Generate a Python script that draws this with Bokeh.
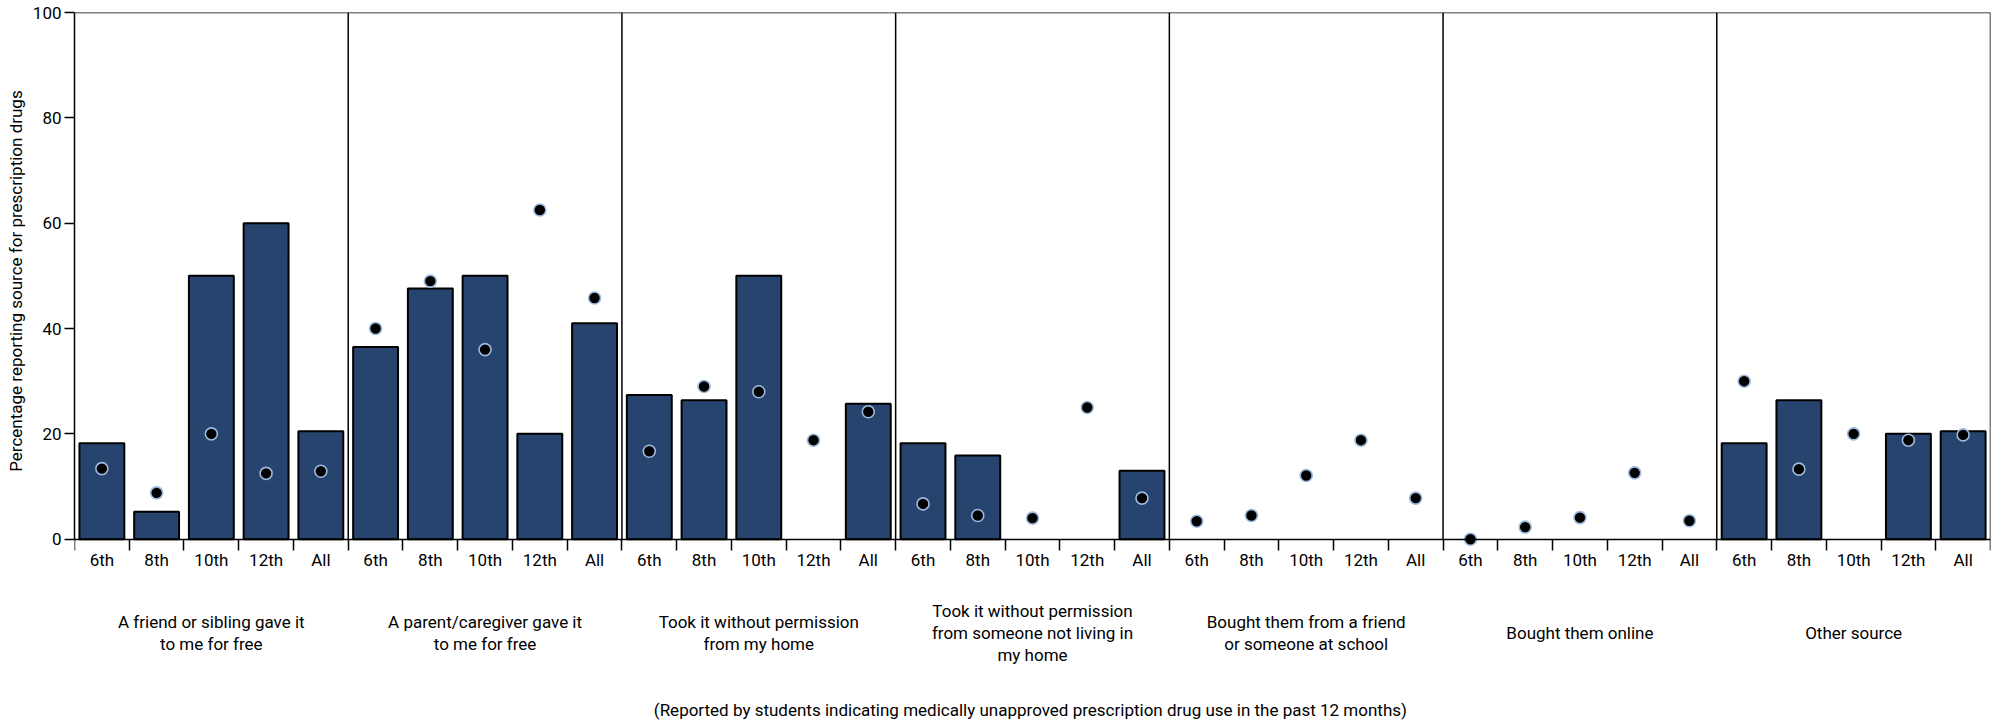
from bokeh.plotting import figure
from bokeh.models import Range1d, FixedTicker, LinearAxis, ColumnDataSource
from bokeh.core.properties import value
from bokeh.embed import file_html
from bokeh.resources import INLINE

FONT = "Roboto"

grades = ["6th", "8th", "10th", "12th", "All"]
groups = [
    "A friend or sibling gave it\nto me for free",
    "A parent/caregiver gave it\nto me for free",
    "Took it without permission\nfrom my home",
    "Took it without permission\nfrom someone not living in\nmy home",
    "Bought them from a friend\nor someone at school",
    "Bought them online",
    "Other source",
]

# bar series (None = no bar)
bar_friend = [18.2, 5.2, 50.0, 60.0, 20.5]
bar_parent = [36.5, 47.6, 50.0, 20.0, 41.0]
bar_home = [27.4, 26.4, 50.0, None, 25.7]
bar_other_home = [18.2, 15.9, None, None, 13.0]
bar_bought_friend = [None, None, None, None, None]
bar_online = [None, None, None, None, None]
bar_other = [18.2, 26.4, None, 20.0, 20.5]

# dot series
dot_friend = [13.4, 8.8, 20.0, 12.5, 12.9]
dot_parent = [40.0, 49.0, 36.0, 62.5, 45.8]
dot_home = [16.7, 29.0, 28.0, 18.8, 24.2]
dot_other_home = [6.7, 4.5, 4.0, 25.0, 7.8]
dot_bought_friend = [3.4, 4.5, 12.1, 18.8, 7.8]
dot_online = [0.0, 2.3, 4.1, 12.6, 3.5]
dot_other = [30.0, 13.3, 20.0, 18.8, 19.8]

y_ticks = [0, 20, 40, 60, 80, 100]
y_label = "Percentage reporting source for prescription drugs"
footer = "(Reported by students indicating medically unapproved prescription drug use  in the past 12 months)"

bars = [bar_friend, bar_parent, bar_home, bar_other_home, bar_bought_friend, bar_online, bar_other]
dots = [dot_friend, dot_parent, dot_home, dot_other_home, dot_bought_friend, dot_online, dot_other]

n_g = len(grades)
n_grp = len(groups)
n_slots = n_grp * n_g
bx, btop, dx, dy = [], [], [], []
for gi in range(n_grp):
    for ki in range(n_g):
        x = gi * n_g + ki + 0.5
        if bars[gi][ki] is not None:
            bx.append(x)
            btop.append(bars[gi][ki])
        dx.append(x)
        dy.append(dots[gi][ki])

Y_MIN = -34.8  # room below the axis for the group names and the note
p = figure(width=1995, height=722, output_backend="svg", toolbar_location=None,
           x_range=Range1d(0, n_slots), y_range=Range1d(Y_MIN, 100),
           min_border_left=74, min_border_right=5, min_border_top=12, min_border_bottom=0)
p.xgrid.visible = False
p.ygrid.visible = False
p.outline_line_color = None
p.background_fill_color = "white"
p.border_fill_color = "white"

p.vbar(x="x", top="top", width=0.82, bottom=0, source=ColumnDataSource(dict(x=bx, top=btop)),
       fill_color="#27446E", line_color="black", line_width=2)

seps = [gi * n_g for gi in range(1, n_grp)]
p.segment(x0=seps, y0=[0] * len(seps), x1=seps, y1=[100] * len(seps),
          line_color="black", line_width=1.5)

p.scatter(x="x", y="y", source=ColumnDataSource(dict(x=dx, y=dy)), size=12,
          fill_color="black", line_color="#9DB9DE", line_width=1.6)

# x axis at y = 0
centers = [gi * n_g + ki + 0.5 for gi in range(n_grp) for ki in range(n_g)]
bounds = list(range(0, n_slots + 1))
xa = p.xaxis[0]
xa.fixed_location = 0
xa.bounds = (0, n_slots)
xa.ticker = FixedTicker(ticks=centers, minor_ticks=bounds)
xa.major_label_overrides = {c: grades[i % n_g] for i, c in enumerate(centers)}
xa.major_tick_out = 0
xa.major_tick_in = 0
xa.minor_tick_out = 11
xa.minor_tick_in = 0
xa.minor_tick_line_color = "black"
xa.minor_tick_line_width = 1.5
xa.axis_line_color = "black"
xa.axis_line_width = 1.5
xa.major_label_standoff = 0
xa.major_label_text_font = FONT
xa.major_label_text_font_size = "17px"
xa.major_label_text_color = "black"

ya = p.yaxis[0]
ya.bounds = (0, 100)
ya.ticker = FixedTicker(ticks=y_ticks)
ya.major_tick_out = 10
ya.major_tick_in = 0
ya.major_tick_line_width = 1.5
ya.minor_tick_line_color = None
ya.axis_line_width = 1.5
ya.major_label_standoff = 3
ya.major_label_text_font = FONT
ya.major_label_text_font_size = "17px"
ya.major_label_text_color = "black"
# leading no-break spaces lift the title so it sits centred on the 0-100 part of the axis
ya.axis_label = "\u00a0" * 41 + y_label
ya.axis_label_text_font = FONT
ya.axis_label_text_font_size = "17px"
ya.axis_label_text_font_style = "normal"
ya.axis_label_text_color = "black"
ya.axis_label_standoff = 4

# frame lines at top and right
top_ax = LinearAxis(fixed_location=100, bounds=(0, n_slots), axis_line_width=1.5,
                    major_tick_line_color=None, minor_tick_line_color=None,
                    major_label_text_color=None)
p.add_layout(top_ax, "above")
right_ax = LinearAxis(fixed_location=n_slots, bounds=(0, 100), axis_line_width=1.5,
                      major_tick_line_color=None, minor_tick_line_color=None,
                      major_label_text_color=None)
p.add_layout(right_ax, "right")

gcenters = [gi * n_g + n_g / 2 for gi in range(n_grp)]
p.text(x=gcenters, y=[-17.9] * n_grp, text=groups, text_align="center", text_baseline="middle",
       text_font=value(FONT), text_font_size="17px", text_line_height=1.1, text_color="black")

p.text(x=[n_slots / 2], y=[-32.4], text=[footer], text_align="center", text_baseline="middle",
       text_font=value(FONT), text_font_size="17px", text_color="black")

open("out.html", "w").write(file_html(p, INLINE))
